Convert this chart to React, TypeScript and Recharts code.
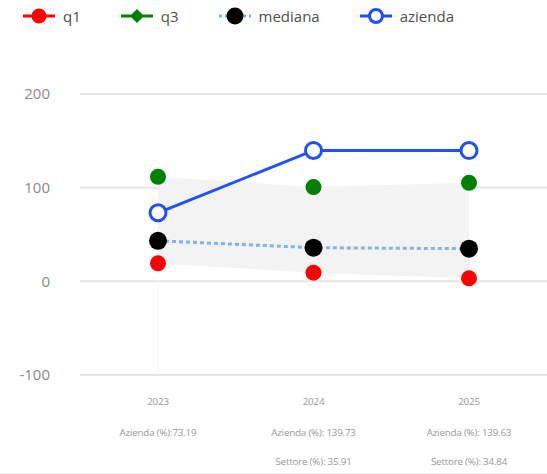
import React from "react";
import {
  ComposedChart,
  Line,
  Area,
  XAxis,
  YAxis,
  CartesianGrid,
  Legend,
  ReferenceLine,
} from "recharts";

const years = ["2023", "2024", "2025"];
const q1 = [19.2, 9.2, 3.2];
const q3 = [111.6, 100.6, 105.2];
const mediana = [43.3, 35.91, 34.84];
const azienda = [73.19, 139.73, 139.63];
const aziendaLabels = ["Azienda (%):73.19", "Azienda (%): 139.73", "Azienda (%): 139.63"];
const settoreLabels = ["", "Settore (%): 35.91", "Settore (%): 34.84"];
const yTicks = [-100, 0, 100, 200];

const data = years.map((y, i) => ({
  year: y,
  q1: q1[i],
  q3: q3[i],
  mediana: mediana[i],
  azienda: azienda[i],
  band: [q1[i], q3[i]],
  aLabel: aziendaLabels[i],
  sLabel: settoreLabels[i],
}));

const FONT = "'Open Sans', 'Noto Sans', sans-serif";

const XTick = (props: any) => {
  const { x, y, index } = props;
  const d = data[index];
  const tickStyle = { fontFamily: FONT, fontSize: 9.8, fill: "#999", letterSpacing: -0.2 };
  return (
    <g>
      <text x={x} y={y + 18} textAnchor="middle" dominantBaseline="central" style={tickStyle}>
        {d.year}
      </text>
      <text x={x} y={y + 49} textAnchor="middle" dominantBaseline="central" style={tickStyle}>
        {d.aLabel}
      </text>
      {d.sLabel ? (
        <text x={x} y={y + 78} textAnchor="middle" dominantBaseline="central" style={tickStyle}>
          {d.sLabel}
        </text>
      ) : null}
    </g>
  );
};

const legendItems = [
  { key: "q1", label: "q1" },
  { key: "q3", label: "q3" },
  { key: "mediana", label: "mediana" },
  { key: "azienda", label: "azienda" },
];

const LegendIcon = ({ k }: { k: string }) => {
  if (k === "q1")
    return (
      <svg width={32} height={20}>
        <line x1={0} y1={10} x2={32} y2={10} stroke="#ff0000" strokeWidth={3} />
        <circle cx={16} cy={10} r={7.5} fill="#ff0000" />
      </svg>
    );
  if (k === "q3")
    return (
      <svg width={32} height={20}>
        <line x1={0} y1={10} x2={32} y2={10} stroke="#008000" strokeWidth={3} />
        <polygon points="16,3 23,10 16,17 9,10" fill="#008000" />
      </svg>
    );
  if (k === "mediana")
    return (
      <svg width={32} height={20}>
        <line x1={0} y1={10} x2={32} y2={10} stroke="#7cb5ec" strokeWidth={3} strokeDasharray="3 3" />
        <circle cx={16} cy={10} r={8.5} fill="#000" />
      </svg>
    );
  return (
    <svg width={32} height={20}>
      <line x1={0} y1={10} x2={32} y2={10} stroke="#1f4fff" strokeWidth={3} />
      <circle cx={16} cy={10} r={6.5} fill="#fff" stroke="#1f4fff" strokeWidth={3} />
    </svg>
  );
};

const LegendContent = () => (
  <div style={{ display: "flex", alignItems: "center", paddingLeft: 23, height: 31 }}>
    {legendItems.map((it) => (
      <div key={it.key} style={{ display: "flex", alignItems: "center", marginRight: 40 }}>
        <LegendIcon k={it.key} />
        <span style={{ marginLeft: 8, fontFamily: FONT, fontSize: 15, color: "#505050" }}>{it.label}</span>
      </div>
    ))}
  </div>
);

export default function App() {
  return (
    <div
      style={{
        position: "absolute",
        left: 0,
        top: 0,
        width: 547,
        height: 473,
        borderBottom: "1px solid #e8e8e8",
        background: "#fff",
      }}
    >
      <ComposedChart
        width={547}
        height={473}
        data={data}
        margin={{ top: 94, right: 0, bottom: 0, left: 0 }}
      >
        <CartesianGrid vertical={false} stroke="#e6e6e6" strokeWidth={2} />
        <XAxis
          dataKey="year"
          axisLine={false}
          tickLine={false}
          height={98}
          tick={<XTick />}
          interval={0}
          padding={{ left: 78, right: 78 }}
        />
        <YAxis
          width={80}
          domain={[-100, 200]}
          ticks={yTicks}
          axisLine={false}
          tickLine={false}
          tickMargin={24}
          tick={{ fontFamily: FONT, fontSize: 15, fill: "#8a8a8a" }}
        />
        <Legend
          verticalAlign="middle"
          align="center"
          layout="horizontal"
          wrapperStyle={{ top: 0, left: 0, width: 547 }}
          content={<LegendContent />}
        />
        <ReferenceLine
          segment={[
            { x: "2023", y: 0 },
            { x: "2023", y: -100 },
          ]}
          stroke="#f4f4f4"
          strokeWidth={1}
        />
        <Area
          dataKey="band"
          stroke="none"
          fill="#f3f3f3"
          fillOpacity={1}
          isAnimationActive={false}
          activeDot={false}
        />
        <Line
          dataKey="q1"
          stroke="none"
          dot={{ r: 8, fill: "#ff0000", stroke: "none" }}
          activeDot={false}
          isAnimationActive={false}
        />
        <Line
          dataKey="q3"
          stroke="none"
          dot={{ r: 8, fill: "#008000", stroke: "none" }}
          activeDot={false}
          isAnimationActive={false}
        />
        <Line
          dataKey="mediana"
          stroke="#7cb5ec"
          strokeWidth={3}
          strokeDasharray="4 3"
          dot={{ r: 9, fill: "#000", stroke: "none" }}
          activeDot={false}
          isAnimationActive={false}
        />
        <Line
          dataKey="azienda"
          stroke="#1f4fff"
          strokeWidth={3}
          dot={{ r: 8, fill: "#fff", stroke: "#1f4fff", strokeWidth: 3 }}
          activeDot={false}
          isAnimationActive={false}
        />
      </ComposedChart>
    </div>
  );
}
